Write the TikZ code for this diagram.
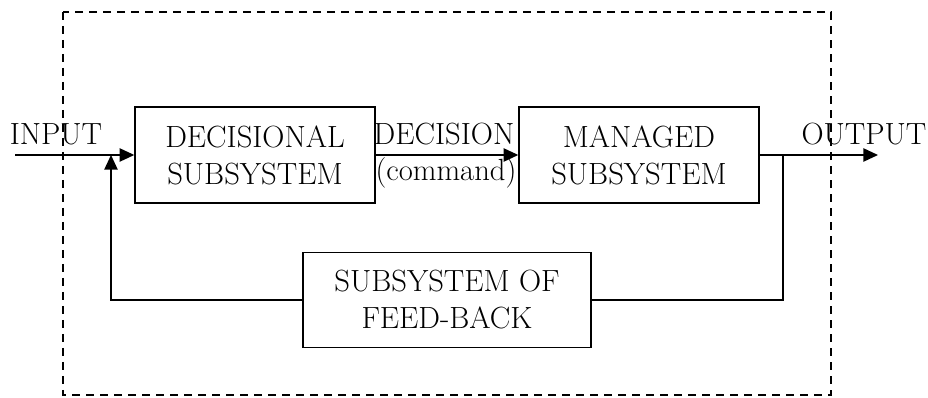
\documentclass[tikz,border=0pt]{standalone}
\usetikzlibrary{arrows.meta}
\tikzset{
    blockbox/.style={draw,line width=1.1pt,align=center,minimum width=180pt,minimum height=72pt,inner sep=0pt},
    flowline/.style={line width=1.1pt},
    flowarrow/.style={line width=1.1pt,-{Triangle[length=11pt,width=10pt]}},
    sidelabel/.style={anchor=base,inner sep=0pt}
}
\begin{document}
\begin{tikzpicture}[x=0.75pt,y=-0.75pt,every node/.style={font=\fontsize{23}{27.75}\selectfont}]
    \useasboundingbox (0,0) rectangle (928,398);
    %Limite del sistema
    \draw[line width=1.1pt,dash pattern=on 6pt off 4.5pt] (63,12) rectangle (831,395);

    %Bloques
    \node[blockbox] (decis) at (255,155) {DECISIONAL\\SUBSYSTEM};
    \node[blockbox] (manag) at (639,155) {MANAGED\\SUBSYSTEM};
    \node[blockbox,minimum width=216pt,minimum height=71pt] (feedb) at (447,300) {SUBSYSTEM OF\\FEED-BACK};

    %Etiquetas
    \node[sidelabel] (inlab) at (56,145) {INPUT};
    \node[sidelabel] (declab) at (444,145) {DECISION};
    \node[sidelabel] (cmdlab) at (446,181) {(command)};
    \node[sidelabel] (outlab) at (864,145) {OUTPUT};

    \coordinate (inp) at (15,155);
    \coordinate (outp) at (878,155);
    \coordinate (split) at (783,155);
    \coordinate (join) at (111,155);

    %Flechas
    \draw[flowarrow] (inp) -- (decis.west);
    \draw[flowarrow] (decis.east) -- (manag.west);
    \draw[flowarrow] (manag.east) -- (outp);
    \draw[flowline] (split) |- (feedb.east);
    \draw[flowarrow] (feedb.west) -| (join);
\end{tikzpicture}
\end{document}
